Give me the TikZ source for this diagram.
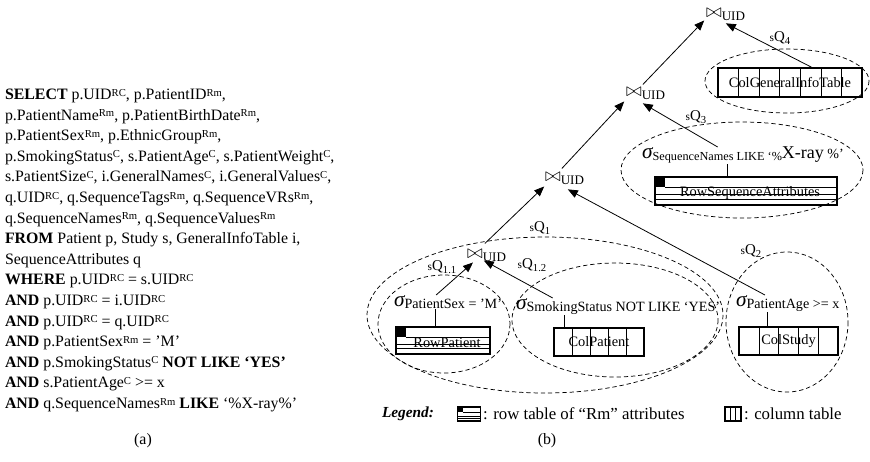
\documentclass[tikz,border=0pt]{standalone}
\usepackage{fontspec}
\setmainfont{Liberation Serif}
\usetikzlibrary{arrows.meta,calc}

% selection operator: large italic sigma with a lowered predicate
\newcommand\sigmaop{{\fontsize{16}{16}\selectfont\itshape σ}}
\newcommand\selop[1]{\sigmaop\raisebox{-2.2pt}{\fontsize{10.6}{12}\selectfont #1}}
% predicate of the sequence selection, with its enlarged pattern
\newcommand\seqpred{\raisebox{-2.2pt}{\fontsize{9.2}{11}\selectfont SequenceNames LIKE ‘\%}%
  \raisebox{-0.6pt}{\fontsize{13.5}{14}\selectfont X-ray}%
  {\fontsize{10.5}{12}\selectfont\ \%’}}
% sub-query label sQ_n
\newcommand\subq[1]{{\fontsize{8.5}{9}\selectfont s}Q\raisebox{-2pt}{\fontsize{8}{8}\selectfont #1}}
% storage tag of an attribute
\newcommand\attr[1]{\raisebox{2.6pt}{\fontsize{8}{8}\selectfont #1}}

\begin{document}
\begin{tikzpicture}[x=0.75pt,y=-0.75pt,
  every node/.style={inner sep=0pt,outer sep=0pt},
  link/.style={line width=0.6pt},
  flow/.style={link,-{Triangle[length=7.5pt,width=6pt]}},
  group/.style={line width=0.55pt,dash pattern=on 3.2pt off 2.2pt},
  joinop/.style={font=\fontsize{14}{14}\selectfont},
  joinkey/.style={font=\fontsize{9.8}{10}\selectfont},
  tabtext/.style={font=\fontsize{10.8}{12}\selectfont},
  qlabel/.style={font=\fontsize{11.2}{12}\selectfont},
  legendtext/.style={font=\fontsize{12.6}{13}\selectfont},
  coltab/.style={draw,line width=1.1pt,tabtext,path picture={
     \pgfmathtruncatemacro{\ncut}{#1-1}
     \foreach \i in {1,...,\ncut}{
       \draw[line width=0.45pt]
         ($(path picture bounding box.north west)!\i/#1!(path picture bounding box.north east)$) --
         ($(path picture bounding box.south west)!\i/#1!(path picture bounding box.south east)$);}}},
  rowtab/.style={draw,line width=1.1pt,tabtext,path picture={
     \fill let \p1=(path picture bounding box.north west),
               \p2=(path picture bounding box.south east),
               \n1={\y1-\y2} in
       (\x1,\y1) rectangle (\x1+0.37*\n1,\y1-0.37*\n1);
     \draw[line width=0.45pt] let \p1=(path picture bounding box.north west),
               \p2=(path picture bounding box.south east),
               \n1={\y1-\y2} in
       (\x1+0.37*\n1,\y1-0.37*\n1) -- (\x2,\y1-0.37*\n1)
       (\x1,\y1-0.63*\n1) -- (\x2,\y1-0.63*\n1)
       (\x1,\y1-0.8*\n1) -- (\x2,\y1-0.8*\n1);}},
]
\useasboundingbox (0,0) rectangle (870,461);

% ---------------- (a) the SQL query ----------------
\node[anchor=north west,align=left,font=\fontsize{11.9}{15.45}\selectfont] (sql) at (5,89) {%
\textbf{SELECT} p.UID\attr{RC}, p.PatientID\attr{Rm},\\
p.PatientName\attr{Rm}, p.PatientBirthDate\attr{Rm},\\
p.PatientSex\attr{Rm}, p.EthnicGroup\attr{Rm},\\
p.SmokingStatus\attr{C}, s.PatientAge\attr{C}, s.PatientWeight\attr{C},\\
s.PatientSize\attr{C}, i.GeneralNames\attr{C}, i.GeneralValues\attr{C},\\
q.UID\attr{RC}, q.SequenceTags\attr{Rm}, q.SequenceVRs\attr{Rm},\\
q.SequenceNames\attr{Rm}, q.SequenceValues\attr{Rm}\\
\textbf{FROM} Patient p, Study s, GeneralInfoTable i,\\
SequenceAttributes q\\
\textbf{WHERE} p.UID\attr{RC} = s.UID\attr{RC}\\
\textbf{AND} p.UID\attr{RC} = i.UID\attr{RC}\\
\textbf{AND} p.UID\attr{RC} = q.UID\attr{RC}\\
\textbf{AND} p.PatientSex\attr{Rm} = ’M’\\
\textbf{AND} p.SmokingStatus\attr{C}\ \textbf{NOT LIKE ‘YES’}\\
\textbf{AND} s.PatientAge\attr{C} >= x\\
\textbf{AND} q.SequenceNames\attr{Rm} \textbf{LIKE} ‘\%X-ray\%’};
\node[font=\fontsize{11.9}{14}\selectfont] (capA) at (143,441) {(a)};

% ---------------- (b) the query plan ----------------
% join operators
\node[joinop] (j1) at (714,13) {$\bowtie$};
\node[joinkey,anchor=west] (k1) at ($(j1.east)+(0,3)$) {UID};
\node[joinop] (j2) at (634,92) {$\bowtie$};
\node[joinkey,anchor=west] (k2) at ($(j2.east)+(0,3)$) {UID};
\node[joinop] (j3) at (553,177) {$\bowtie$};
\node[joinkey,anchor=west] (k3) at ($(j3.east)+(0,3)$) {UID};
\node[joinop] (j4) at (475,254) {$\bowtie$};
\node[joinkey,anchor=west] (k4) at ($(j4.east)+(0,3)$) {UID};

% selections
\node[anchor=base west] (sel3) at (642,158) {\sigmaop\seqpred};
\node[anchor=base west] (sel11) at (394,306) {\selop{PatientSex = ’M’}};
\node[anchor=base west] (sel12) at (516,309) {\selop{SmokingStatus NOT LIKE ‘YES’}};
\node[anchor=base west] (sel2) at (736,306) {\selop{PatientAge >= x}};

% tables
\node[coltab=7,minimum width=108pt,minimum height=21.75pt] (tGen) at (790,82.5) {ColGeneralInfoTable};
\node[rowtab,minimum width=136.5pt,minimum height=21pt] (tSeq) at (746,191) {};
\node[tabtext] (tSeqName) at ($(tSeq.center)+(4,2)$) {RowSequenceAttributes};
\node[rowtab,minimum width=70.5pt,minimum height=20.25pt] (tRowPat) at (443,340.5) {};
\node[tabtext] (tRowPatName) at ($(tRowPat.center)+(4,2)$) {RowPatient};
\node[coltab=5,minimum width=67.5pt,minimum height=21pt] (tColPat) at (599,342) {ColPatient};
\node[coltab=5,minimum width=74.25pt,minimum height=21pt] (tColStudy) at (788.5,341) {ColStudy};

% selections sit on their tables
\coordinate (c3) at ($(tSeq.north west)+(72,0)$);
\draw[link] (c3) -- (c3 |- sel3.south);
\coordinate (c11) at ($(tRowPat.north west)+(39,0)$);
\draw[link] (c11) -- (c11 |- sel11.south);
\coordinate (c12) at ($(tColPat.north west)+(10,0)$);
\draw[link] (c12) -- (c12 |- sel12.south);
\coordinate (c2) at ($(tColStudy.north west)+(28,0)$);
\draw[link] (c2) -- (c2 |- sel2.south);

% data flow
\draw[flow] ($(j2.north east)+(1,-3)$) -- ($(j1.south west)+(-2,3)$);
\draw[flow] ($(tGen.north west)!0.66!(tGen.north east)$) -- ($(k1.south west)+(4,3)$);
\draw[flow] ($(j3.north east)+(1,-4)$) -- ($(j2.south west)+(-2,5)$);
\draw[flow] ($(sel3.north west)!0.375!(sel3.north east)$) -- ($(k2.south west)+(1,4)$);
\draw[flow] ($(j4.north east)+(2,-6)$) -- ($(j3.south west)+(-1,5)$);
\draw[flow] ($(sel2.north west)!0.28!(sel2.north east)$) -- ($(k3.south west)+(7,5)$);
\draw[flow] ($(sel11.north west)!0.39!(sel11.north east)$) -- ($(j4.south)+(-2,4)$);
\draw[flow] ($(sel12.north west)!0.18!(sel12.north east)$) -- ($(j4.south east)+(1,2)$);

% sub-query groups
\draw[group] (787,81) ellipse [x radius=82,y radius=32];
\draw[group] (742,170) ellipse [x radius=121,y radius=48];
\draw[group] (545,315) ellipse [x radius=178,y radius=78];
\draw[group] (444,324) ellipse [x radius=66,y radius=49];
\draw[group] (615,320) ellipse [x radius=103,y radius=57];
\draw[group] (787,322) ellipse [x radius=61,y radius=70];

\node[qlabel] (q4) at (780,38) {\subq{4}};
\node[qlabel] (q3) at (696,117) {\subq{3}};
\node[qlabel] (q1) at (540,228) {\subq{1}};
\node[qlabel] (q11) at (442,267) {\subq{1.1}};
\node[qlabel] (q12) at (532,265) {\subq{1.2}};
\node[qlabel] (q2) at (751,251) {\subq{2}};

% legend
\node[anchor=west,font=\fontsize{11.5}{12}\selectfont\bfseries\itshape] (lgTitle) at (382,414) {Legend:};
\node[rowtab,line width=0.9pt,minimum width=17pt,minimum height=10.5pt] (lgRow) at (469,414) {};
\node[anchor=west,legendtext] (lgRowText) at (483,414) {: row table of “Rm” attributes};
\node[coltab=3,line width=0.9pt,minimum width=12pt,minimum height=10.5pt] (lgCol) at (733,414) {};
\node[anchor=west,legendtext] (lgColText) at (744,414) {: column table};
\node[font=\fontsize{11.9}{14}\selectfont] (capB) at (547,441) {(b)};
\end{tikzpicture}
\end{document}
